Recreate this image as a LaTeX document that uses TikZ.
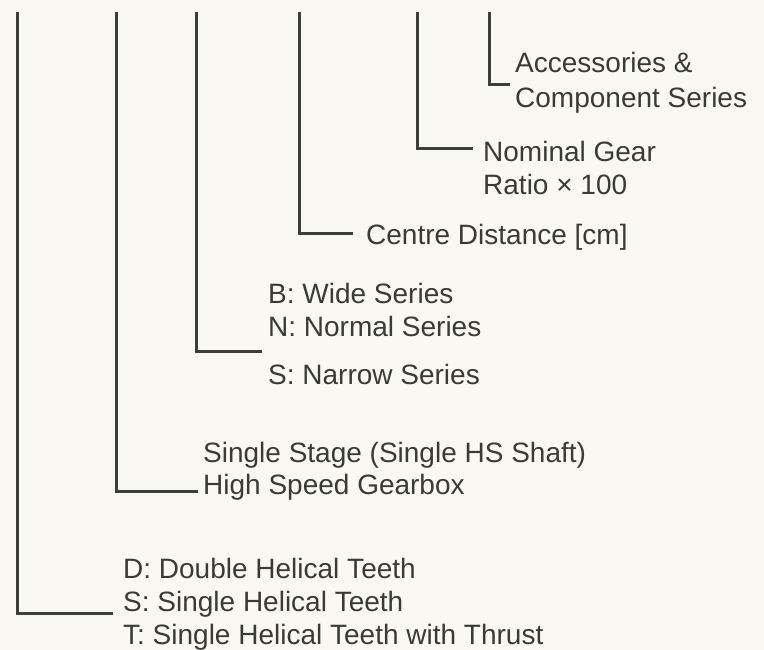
\documentclass[tikz,border=0pt]{standalone}
\usepackage{fontspec}
\setmainfont{Liberation Sans}
\definecolor{bg}{HTML}{FAF9F1}
\definecolor{ink}{HTML}{3B3E3C}
\definecolor{txt}{HTML}{3A3A3A}
\begin{document}
\begin{tikzpicture}[x=1pt,y=-1pt,
  lead/.style={draw=ink,line width=3pt,line cap=butt,line join=miter},
  lbl/.style={anchor=base west,inner sep=0pt,text=txt,font=\fontsize{28}{33}\selectfont}]
\fill[bg] (0,0) rectangle (764,650);
\useasboundingbox (0,0) rectangle (764,650);
% labels
\node[lbl] (acc1) at (515,73) {Accessories \&};
\node[lbl] (acc2) at (515,108) {Component Series};
\node[lbl] (nom1) at (483,162) {Nominal Gear};
\node[lbl] (nom2) at (483,195) {Ratio × 100};
\node[lbl] (cd) at (366,245) {Centre Distance [cm]};
\node[lbl] (wb) at (268,303) {B: Wide Series};
\node[lbl] (wn) at (268,336) {N: Normal Series};
\node[lbl] (ws) at (268,384) {S: Narrow Series};
\node[lbl] (hs1) at (203,462) {Single Stage (Single HS Shaft)};
\node[lbl] (hs2) at (203,494) {High Speed Gearbox};
\node[lbl] (td) at (123,578) {D: Double Helical Teeth};
\node[lbl] (ts) at (123,611) {S: Single Helical Teeth};
\node[lbl] (tt) at (123,644) {T: Single Helical Teeth with Thrust};
% tops and ends of the leaders
\coordinate (t1) at (17,12);  \coordinate (e1) at (113,613);
\coordinate (t2) at (116,12); \coordinate (e2) at (198,491);
\coordinate (t3) at (196,12); \coordinate (e3) at (262,351);
\coordinate (t4) at (299,12); \coordinate (e4) at (353,234);
\coordinate (t5) at (417,12); \coordinate (e5) at (473,149);
\coordinate (t6) at (489,12); \coordinate (e6) at (510,85);
\draw[lead] (t1) |- (e1);
\draw[lead] (t2) |- (e2);
\draw[lead] (t3) |- (e3);
\draw[lead] (t4) |- (e4);
\draw[lead] (t5) |- (e5);
\draw[lead] (t6) |- (e6);
\end{tikzpicture}
\end{document}
